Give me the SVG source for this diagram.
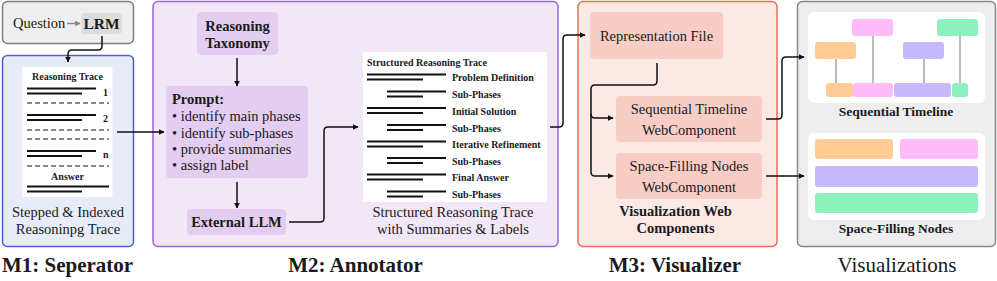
<svg xmlns="http://www.w3.org/2000/svg" width="997" height="281" viewBox="0 0 997 281" font-family="'Liberation Serif', 'DejaVu Serif', serif">
<style>
text{font-family:'Liberation Serif','DejaVu Serif',serif;fill:#1a1a1a}
.n{font-size:14.5px}
.b{font-weight:bold}
.s{font-size:10px;font-weight:bold}
.t{font-size:21px}
.mid{text-anchor:middle}
.tl{stroke:#111;stroke-width:2.2}
.dl{stroke:#858585;stroke-width:2;stroke-dasharray:5 3}
.c{fill:none;stroke:#111;stroke-width:1.5}
.vl{stroke:#999;stroke-width:1.3}
</style>
<defs>
<marker id="ah" viewBox="0 0 10 10" refX="9" refY="5" markerWidth="6" markerHeight="6" markerUnits="userSpaceOnUse" orient="auto"><path d="M0,0 L10,5 L0,10 z" fill="#111"/></marker>
<marker id="ahg" viewBox="0 0 10 10" refX="9" refY="5" markerWidth="6" markerHeight="6" markerUnits="userSpaceOnUse" orient="auto"><path d="M0,0 L10,5 L0,10 z" fill="#888"/></marker>
</defs>

<g id="question">
<rect x="2.5" y="1.5" width="131" height="42" rx="5" fill="#efefef" stroke="#7d7d7d" stroke-width="1.5"/>
<text class="n" x="13" y="28">Question</text>
<line x1="67" y1="23.5" x2="80" y2="23.5" stroke="#888" stroke-width="1.5" marker-end="url(#ahg)"/>
<rect x="81" y="13" width="41" height="21" rx="4" fill="#dcdcdc"/>
<text class="n b mid" x="101.5" y="29" style="font-size:15.5px">LRM</text>
</g>

<g id="m1">
<rect x="2.5" y="55.5" width="131" height="191" rx="5" fill="#e8ecf9" stroke="#4b5fd1" stroke-width="1.5"/>
<rect x="22.5" y="67" width="90" height="130" fill="#fff"/>
<text class="s mid" x="67.5" y="80">Reasoning Trace</text>
<line class="tl" x1="27" y1="88.5" x2="96" y2="88.5"/>
<line class="tl" x1="27" y1="93.5" x2="82" y2="93.5"/>
<text class="s" x="103" y="96">1</text>
<line class="dl" x1="27" y1="103" x2="109" y2="103"/>
<line class="tl" x1="27" y1="115" x2="96" y2="115"/>
<line class="tl" x1="27" y1="120" x2="82" y2="120"/>
<text class="s" x="103" y="122">2</text>
<line class="dl" x1="27" y1="130" x2="109" y2="130"/>
<line class="dl" x1="27" y1="139" x2="109" y2="139"/>
<line class="tl" x1="27" y1="151" x2="96" y2="151"/>
<line class="tl" x1="27" y1="156" x2="82" y2="156"/>
<text class="s" x="103" y="158">n</text>
<line class="dl" x1="27" y1="166" x2="109" y2="166"/>
<text class="s mid" x="67.5" y="180">Answer</text>
<line class="tl" x1="27" y1="186.5" x2="109" y2="186.5"/>
<line class="tl" x1="27" y1="191.5" x2="82" y2="191.5"/>
<text class="n mid" x="68" y="217">Stepped &amp; Indexed</text>
<text class="n mid" x="68" y="234">Reasoninpg Trace</text>
</g>
<text class="t b mid" x="67.5" y="272">M1: Seperator</text>

<g id="m2">
<rect x="153" y="1.5" width="405" height="245" rx="5" fill="#f1e7f7" stroke="#a064d8" stroke-width="1.5"/>
</g>
<g id="taxonomy">
<rect x="197" y="12" width="81" height="43" rx="4" fill="#e3cdf0"/>
<text class="n b mid" x="237.5" y="31">Reasoning</text>
<text class="n b mid" x="237.5" y="47.5">Taxonomy</text>
</g>
<g id="prompt">
<rect x="166" y="86" width="142" height="92" rx="4" fill="#e3cdf0"/>
<text class="n b" x="172" y="104">Prompt:</text>
<text class="n" x="172" y="121">• identify main phases</text>
<text class="n" x="172" y="137.5">• identify sub-phases</text>
<text class="n" x="172" y="154">• provide summaries</text>
<text class="n" x="172" y="170">• assign label</text>
</g>
<g id="llm">
<rect x="187" y="209" width="99" height="26" rx="4" fill="#e3cdf0"/>
<text class="n b mid" x="236.5" y="227">External LLM</text>
</g>
<g id="structured">
<rect x="363" y="52" width="184" height="150" fill="#fff"/>
<text class="s" x="367" y="65.5">Structured Reasoning Trace</text>
<g>
<line class="tl" x1="367" y1="74.5" x2="446" y2="74.5"/><line class="tl" x1="367" y1="79.5" x2="423" y2="79.5"/>
<text class="s" x="452" y="81">Problem Definition</text>
<line class="tl" x1="387" y1="91.5" x2="446" y2="91.5"/><line class="tl" x1="387" y1="96.5" x2="423" y2="96.5"/>
<text class="s" x="452" y="98">Sub-Phases</text>
<line class="tl" x1="367" y1="108" x2="446" y2="108"/><line class="tl" x1="367" y1="113" x2="423" y2="113"/>
<text class="s" x="452" y="114.5">Initial Solution</text>
<line class="tl" x1="387" y1="125" x2="446" y2="125"/><line class="tl" x1="387" y1="130" x2="423" y2="130"/>
<text class="s" x="452" y="131.5">Sub-Phases</text>
<line class="tl" x1="367" y1="141.5" x2="446" y2="141.5"/><line class="tl" x1="367" y1="146.5" x2="423" y2="146.5"/>
<text class="s" x="452" y="148">Iterative Refinement</text>
<line class="tl" x1="387" y1="158" x2="446" y2="158"/><line class="tl" x1="387" y1="163" x2="423" y2="163"/>
<text class="s" x="452" y="164.5">Sub-Phases</text>
<line class="tl" x1="367" y1="174.5" x2="446" y2="174.5"/><line class="tl" x1="367" y1="179.5" x2="423" y2="179.5"/>
<text class="s" x="452" y="181">Final Answer</text>
<line class="tl" x1="387" y1="191.5" x2="446" y2="191.5"/><line class="tl" x1="387" y1="196.5" x2="423" y2="196.5"/>
<text class="s" x="452" y="198">Sub-Phases</text>
</g>
<text class="n mid" x="453" y="217">Structured Reasoning Trace</text>
<text class="n mid" x="453" y="234">with Summaries &amp; Labels</text>
</g>
<text class="t b mid" x="355.5" y="272">M2: Annotator</text>

<g id="m3">
<rect x="578" y="1.5" width="199" height="245" rx="5" fill="#fbe9e6" stroke="#ea6f55" stroke-width="1.5"/>
<text class="n b mid" x="675.5" y="216">Visualization Web</text>
<text class="n b mid" x="675.5" y="233">Components</text>
</g>
<g id="repfile">
<rect x="590" y="12" width="133" height="47" rx="4" fill="#f7cdc6"/>
<text class="n mid" x="656.5" y="41">Representation File</text>
</g>
<g id="seqcomp">
<rect x="616" y="96" width="146" height="46" rx="4" fill="#f7cdc6"/>
<text class="n mid" x="689" y="114">Sequential Timeline</text>
<text class="n mid" x="689" y="135">WebComponent</text>
</g>
<g id="spacecomp">
<rect x="616" y="153" width="146" height="46" rx="4" fill="#f7cdc6"/>
<text class="n mid" x="689" y="171">Space-Filling Nodes</text>
<text class="n mid" x="689" y="192">WebComponent</text>
</g>
<text class="t b mid" x="675" y="272">M3: Visualizer</text>

<g id="visualizations">
<rect x="797.5" y="1.5" width="198" height="245" rx="5" fill="#eeeeee" stroke="#888" stroke-width="1.5"/>
</g>
<g id="seqtimeline">
<rect x="808" y="12" width="177" height="91" rx="6" fill="#fff"/>
<line class="vl" x1="836" y1="59" x2="836" y2="83"/>
<line class="vl" x1="873" y1="36" x2="873" y2="83"/>
<line class="vl" x1="924" y1="59" x2="924" y2="83"/>
<line class="vl" x1="960" y1="36" x2="960" y2="83"/>
<rect x="815" y="42" width="41" height="17" rx="3" fill="#ffcc96"/>
<rect x="852" y="19" width="41" height="17" rx="3" fill="#ffbbfa"/>
<rect x="903" y="42" width="41" height="17" rx="3" fill="#c8b9ff"/>
<rect x="937" y="19" width="41" height="17" rx="3" fill="#8df1be"/>
<rect x="826" y="83" width="27" height="14" rx="3" fill="#ffcc96"/>
<rect x="853" y="83" width="40" height="14" rx="3" fill="#ffbbfa"/>
<rect x="894" y="83" width="57" height="14" rx="3" fill="#c8b9ff"/>
<rect x="952" y="83" width="16" height="14" rx="3" fill="#8df1be"/>
<text class="b mid" x="896" y="116" style="font-size:13.5px">Sequential Timeline</text>
</g>
<g id="spacefilling">
<rect x="808" y="133" width="177" height="87" rx="6" fill="#fff"/>
<rect x="815" y="139" width="78" height="20" rx="3" fill="#ffcc96"/>
<rect x="900" y="139" width="78" height="20" rx="3" fill="#ffbbfa"/>
<rect x="815" y="166" width="163" height="21" rx="3" fill="#c8b9ff"/>
<rect x="815" y="193" width="163" height="20" rx="3" fill="#8df1be"/>
<text class="b mid" x="896" y="233" style="font-size:13.5px">Space-Filling Nodes</text>
</g>
<text class="t mid" x="897" y="272">Visualizations</text>

<g id="connectors">
<path class="c" d="M102,36 V46 Q102,50 98,50 H72 Q68,50 68,54 V62" marker-end="url(#ah)"/>
<path class="c" d="M117,132 H164" marker-end="url(#ah)"/>
<path class="c" d="M237,58 V86" marker-end="url(#ah)"/>
<path class="c" d="M237,182 V208" marker-end="url(#ah)"/>
<path class="c" d="M289,222 H320 Q324,222 324,218 V131 Q324,127 328,127 H358" marker-end="url(#ah)"/>
<path class="c" d="M550,127 H559 Q563,127 563,123 V39 Q563,35 567,35 H585" marker-end="url(#ah)"/>
<path class="c" d="M657,63 V81 Q657,85 653,85 H595 Q591,85 591,89 V114 Q591,118 595,118 H613" marker-end="url(#ah)"/>
<path class="c" d="M591,114 V172 Q591,176 595,176 H613" marker-end="url(#ah)"/>
<path class="c" d="M766,119 H778 Q782,119 782,115 V61 Q782,57 786,57 H804" marker-end="url(#ah)"/>
<path class="c" d="M766,176 H804" marker-end="url(#ah)"/>
</g>
</svg>
